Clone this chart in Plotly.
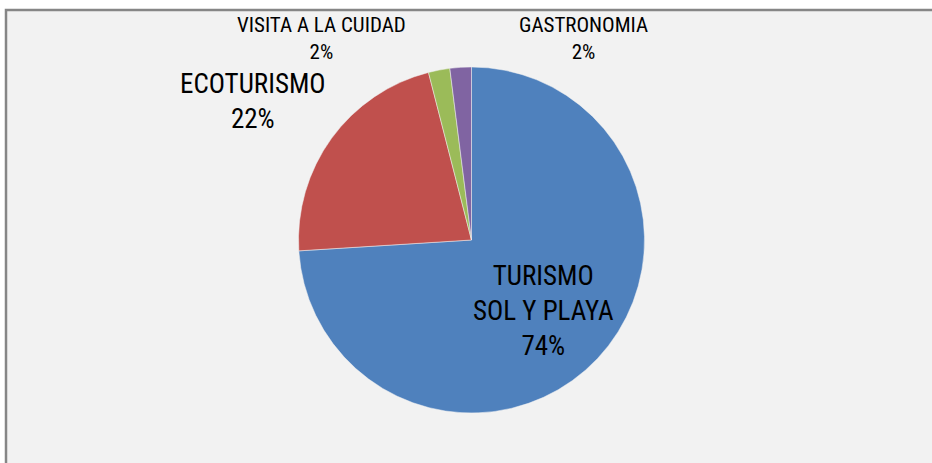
import plotly.graph_objects as go

W, H = 932, 463

# data
labels = ["TURISMO SOL Y PLAYA", "ECOTURISMO", "VISITA A LA CUIDAD", "GASTRONOMIA"]
label_lines = ["TURISMO<br>SOL Y PLAYA", "ECOTURISMO", "VISITA A LA CUIDAD", "GASTRONOMIA"]
values = [74, 22, 2, 2]
colors = ["#4f81bd", "#c0504d", "#9bbb59", "#8064a2"]

FONT = "Liberation Sans Narrow, Arial Narrow, Roboto Condensed, Liberation Sans, sans-serif"

fig = go.Figure(go.Pie(
    labels=labels,
    values=values,
    marker=dict(colors=colors, line=dict(color="#f2f2f2", width=0.5)),
    sort=False,
    direction="clockwise",
    rotation=0,
    textinfo="none",
    hoverinfo="label+percent",
    domain=dict(x=[298.5 / W, 644.5 / W], y=[1 - 413 / H, 1 - 67 / H]),
    showlegend=False,
))

total = sum(values)
pcts = [f"{round(v * 100 / total)}%" for v in values]

# label centres in pixels (x, y) and font sizes
label_pos = [(543, 311, 27), (253, 102, 27), (321, 39, 21), (583, 39, 21)]
for name, pct, (px_, py_, fs) in zip(label_lines, pcts, label_pos):
    fig.add_annotation(
        x=px_ / W, y=1 - py_ / H, xref="paper", yref="paper",
        text=f"{name}<br>{pct}", showarrow=False,
        font=dict(family=FONT, size=fs, color="#000000"),
        align="center", xanchor="center", yanchor="middle",
    )

# chart area frame
fig.add_shape(
    type="rect", xref="paper", yref="paper",
    x0=6 / W, x1=1.05, y0=-0.05, y1=1 - 10 / H,
    fillcolor="#f2f2f2", line=dict(color="#868686", width=2.5), layer="below",
)

fig.update_layout(
    width=W, height=H,
    margin=dict(l=0, r=0, t=0, b=0),
    paper_bgcolor="#ffffff",
    plot_bgcolor="#f2f2f2",
)

# drop the default page margin so the figure sits at the window origin
fig.write_html(
    "out.html",
    config={"displayModeBar": False},
    post_script="document.body.style.margin='0';document.body.style.overflow='hidden';",
)
